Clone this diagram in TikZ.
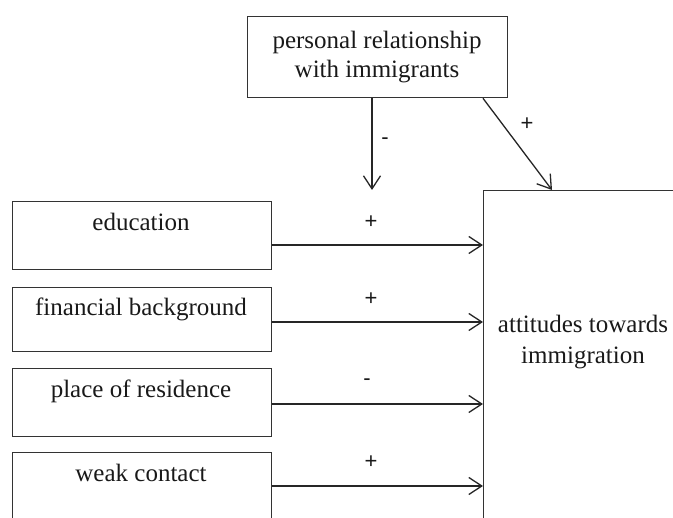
\documentclass[tikz,border=0pt]{standalone}
\usepackage{fontspec}
\setmainfont{Liberation Serif}
\newfontfamily\signfont{Liberation Sans}
\usetikzlibrary{arrows.meta}
\begin{document}
\begin{tikzpicture}[x=1pt,y=-1pt,
  box/.style={draw=black!80, line width=1.3pt, rectangle, inner sep=0pt, anchor=north west},
  txt/.style={font=\fontsize{25}{29}\selectfont, inner sep=0pt, align=center, text=black!90},
  sign/.style={font=\signfont\fontsize{22}{22}\selectfont, inner sep=0pt, text=black!90},
  arr/.style={line width=1.3pt, draw=black!85, -{Straight Barb[length=13pt,width=17pt]}}]
\useasboundingbox (0,0) rectangle (673,518);
\clip (0,0) rectangle (673,518);
% boxes
\node[box, minimum width=260, minimum height=81] (rel) at (247,16) {};
\node[box, minimum width=259, minimum height=68] (edu) at (12,201) {};
\node[box, minimum width=259, minimum height=64] (fin) at (12,287) {};
\node[box, minimum width=259, minimum height=68] (res) at (12,368) {};
\node[box, minimum width=259, minimum height=100] (weak) at (12,452) {};
\node[box, minimum width=200, minimum height=400] (att) at (483,190) {};
% texts
\node[txt] (relt) at (377,57.5) {personal relationship\\with immigrants};
\node[txt, anchor=base] (edut) at (141,231) {education};
\node[txt, anchor=base] (fint) at (141,316) {financial background};
\node[txt, anchor=base] (rest) at (141,398) {place of residence};
\node[txt, anchor=base] (weakt) at (141,482) {weak contact};
\node[txt, font=\fontsize{25}{31}\selectfont] (attt) at (583,342) {attitudes towards\\immigration};
% helper coordinates
\coordinate (y1) at (0,245);
\coordinate (y2) at (0,322);
\coordinate (y3) at (0,404);
\coordinate (y4) at (0,486);
\coordinate (xm) at (372,0);
\coordinate (xd) at (483,0);
\coordinate (xt) at (552,0);
\coordinate (mod) at (372,190);
% connectors
\draw[arr] (edu.east |- y1) -- (att.west |- y1);
\draw[arr] (fin.east |- y2) -- (att.west |- y2);
\draw[arr] (res.east |- y3) -- (att.west |- y3);
\draw[arr] (weak.east |- y4) -- (att.west |- y4);
\draw[arr] (rel.south -| xm) -- (mod);
\draw[arr] (rel.south -| xd) -- (att.north -| xt);
% signs
\node[sign] (s1) at (371,222) {+};
\node[sign] (s2) at (371,299) {+};
\node[sign] (s3) at (367,382) {-};
\node[sign] (s4) at (371,462) {+};
\node[sign] (s5) at (385,141) {-};
\node[sign] (s6) at (527,124) {+};
\end{tikzpicture}
\end{document}
